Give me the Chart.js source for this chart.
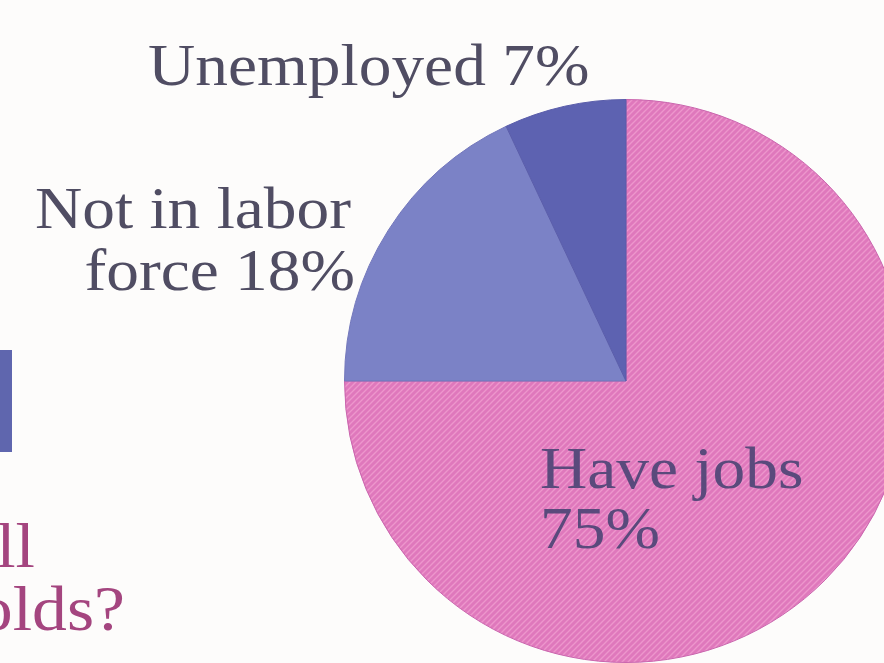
<!DOCTYPE html>
<html>
<head>
<meta charset="utf-8">
<script src="https://cdn.jsdelivr.net/npm/chart.js@4.4.1/dist/chart.umd.min.js"></script>
<style>
    html, body { margin: 0; padding: 0; background: #fdfcfb; overflow: hidden; }
    #wrap { position: relative; width: 960px; height: 700px; }
</style>
</head>
<body>
<div id="wrap"><canvas id="pizzaChart" width="960" height="700"></canvas></div>
<script>
const categorias = ['Have jobs', 'Not in labor force', 'Unemployed'];
const valores = [75, 18, 7];
const rotulos = [['Have jobs', '75%'], ['Not in labor', 'force 18%'], ['Unemployed 7%']];

// textura rosa com listras diagonais
function criarHachura() {
    const c = document.createElement('canvas');
    c.width = 6; c.height = 6;
    const g = c.getContext('2d');
    g.fillStyle = '#df78bc';
    g.fillRect(0, 0, 6, 6);
    g.strokeStyle = 'rgba(242, 160, 210, 0.75)';
    g.lineWidth = 1.4;
    g.beginPath();
    g.moveTo(-1, 7); g.lineTo(7, -1);
    g.moveTo(-1, 1); g.lineTo(1, -1);
    g.moveTo(5, 7); g.lineTo(7, 5);
    g.stroke();
    return g.createPattern(c, 'repeat');
}

const fonteSerif = '"Liberation Serif", "DejaVu Serif", serif';

// texto um pouco mais largo que a Times
function textoLargo(ctx, txt, x, y, alinhar) {
    ctx.save();
    ctx.translate(x, y);
    ctx.scale(1.09, 1);
    ctx.textAlign = alinhar;
    ctx.fillText(txt, 0, 0);
    ctx.restore();
}

const textosPlugin = {
    id: 'textos',
    afterDraw(chart) {
        const ctx = chart.ctx;
        ctx.save();
        ctx.font = `60px ${fonteSerif}`;
        ctx.fillStyle = '#504d63';
        ctx.textBaseline = 'alphabetic';

        textoLargo(ctx, rotulos[2][0], 148, 85, 'left');
        textoLargo(ctx, rotulos[1][0], 35, 228, 'left');
        textoLargo(ctx, rotulos[1][1], 355, 290, 'right');

        ctx.fillStyle = '#5a4a7c';
        textoLargo(ctx, rotulos[0][0], 540, 488, 'left');
        textoLargo(ctx, rotulos[0][1], 540, 548, 'left');

        // restos da página ao lado
        ctx.fillStyle = '#5f66ae';
        ctx.fillRect(0, 350, 12, 102);
        ctx.font = `64px ${fonteSerif}`;
        ctx.fillStyle = '#a4457f';
        textoLargo(ctx, 'all', 35, 567, 'right');
        textoLargo(ctx, 'households?', 125, 630, 'right');
        ctx.restore();
    }
};

new Chart(document.getElementById('pizzaChart'), {
    type: 'pie',
    data: {
        labels: categorias,
        datasets: [{
            data: valores,
            backgroundColor: [criarHachura(), '#7b82c6', '#5d62b1'],
            borderColor: ['#c965ad', '#7377bb', '#5a5daa'],
            borderWidth: 1
        }]
    },
    options: {
        responsive: false,
        animation: false,
        layout: { padding: { left: 344, top: 99, right: 52, bottom: 37 } },
        plugins: {
            legend: { display: false },
            tooltip: { enabled: false }
        }
    },
    plugins: [textosPlugin]
});
</script>
</body>
</html>
